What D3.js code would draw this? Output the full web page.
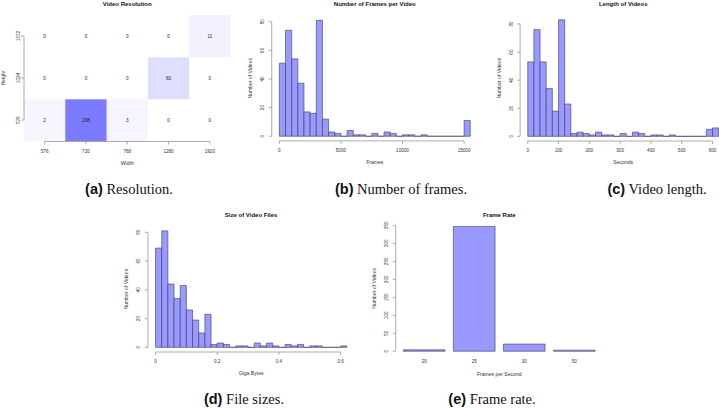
<!DOCTYPE html>
<html><head><meta charset="utf-8">
<script src="https://cdn.jsdelivr.net/npm/d3@7"></script>
<style>
body{margin:0;background:#fff}
svg{display:block}
text{font-family:"Liberation Sans",Arial,Helvetica,sans-serif}
tspan.serif{font-family:"Liberation Serif","Times New Roman",serif}
tspan.tag{font-family:"Liberation Sans",Arial,sans-serif;font-weight:bold}
</style>
</head><body>
<script>
// ---------- data ----------
const resWidths = ["576","720","768","1280","1920"];
const resHeights = ["576","1024","1072"];            // bottom to top
const resCounts = [                                   // rows = heights, cols = widths
  [2,298,3,0,0],
  [0,0,0,60,0],
  [0,0,0,0,11]
];

const frameBin = 500;
const frameCounts = [51,74,54,37,17,16,81,12,3,2,0,4,1,1,0,2,0,3,2,0,1,1,0,1,0,0,0,0,0,0,11];
const frameTicks = [0,5000,10000,15000];

const lengthBin = 20;
const lengthCounts = [53,76,53,34,18,83,23,2,3,2,1,3,1,1,0,2,0,3,2,0,1,1,0,1,0,0,0,0,0,5,6];
const lengthTicks = [0,100,200,300,400,500,600];

const sizeBin = 0.02;
const sizeCounts = [69,81,44,34,43,26,19,10,23,2,3,2,0,1,1,0,3,1,3,1,0,2,1,2,0,1,1,0,0,0,1];
const sizeTicks = [0,0.2,0.4,0.6];

const countTicks = [0,20,40,60,80];

const rateCats = ["20","25","30","50"];
const rateCounts = [4,347,20,3];
const rateTicks = [0,50,100,150,200,250,300,350];

const captions = [
  {tag:"(a)", text:" Resolution."},
  {tag:"(b)", text:" Number of frames."},
  {tag:"(c)", text:" Video length."},
  {tag:"(d)", text:" File sizes."},
  {tag:"(e)", text:" Frame rate."}
];

// ---------- style ----------
const BAR_FILL = "#9999ff";
const BAR_STROKE = "#3a3a5a";
const AXIS_COL = "#8a8a8a";
const TXT_COL = "#333";
const TICK_FS = 4.6, LAB_FS = 5.1, TITLE_FS = 6;

const svg = d3.select("body").append("svg").attr("width",719).attr("height",408);

function title(x,y,t){
  svg.append("text").attr("x",x).attr("y",y).attr("text-anchor","middle")
    .attr("font-size",TITLE_FS).attr("font-weight","bold").attr("fill","#111").text(t);
}
function axisBottom(scale, ticks, y, fmt){
  const g = svg.append("g");
  const xs = ticks.map(scale);
  g.append("line").attr("x1",d3.min(xs)).attr("x2",d3.max(xs)).attr("y1",y).attr("y2",y)
    .attr("stroke",AXIS_COL).attr("stroke-width",0.7);
  ticks.forEach(t=>{
    const x = scale(t);
    g.append("line").attr("x1",x).attr("x2",x).attr("y1",y).attr("y2",y+3)
      .attr("stroke",AXIS_COL).attr("stroke-width",0.7);
    g.append("text").attr("x",x).attr("y",y+11).attr("text-anchor","middle")
      .attr("font-size",TICK_FS).attr("fill",TXT_COL).text(fmt?fmt(t):t);
  });
}
function axisLeft(scale, ticks, x, fmt){
  const g = svg.append("g");
  const ys = ticks.map(scale);
  g.append("line").attr("y1",d3.min(ys)).attr("y2",d3.max(ys)).attr("x1",x).attr("x2",x)
    .attr("stroke",AXIS_COL).attr("stroke-width",0.7);
  ticks.forEach(t=>{
    const y = scale(t);
    g.append("line").attr("y1",y).attr("y2",y).attr("x1",x).attr("x2",x-3)
      .attr("stroke",AXIS_COL).attr("stroke-width",0.7);
    g.append("text").attr("transform",`translate(${x-7.6},${y}) rotate(-90)`)
      .attr("text-anchor","middle").attr("font-size",TICK_FS).attr("fill",TXT_COL)
      .text(fmt?fmt(t):t);
  });
}
function xLabel(x,y,t){
  svg.append("text").attr("x",x).attr("y",y).attr("text-anchor","middle")
    .attr("font-size",LAB_FS).attr("fill",TXT_COL).text(t);
}
function yLabel(x,y,t){
  svg.append("text").attr("transform",`translate(${x},${y}) rotate(-90)`)
    .attr("text-anchor","middle").attr("font-size",LAB_FS).attr("fill",TXT_COL).text(t);
}

// R-style 4% axis extension
function ext(lo,hi){const d=(hi-lo)*0.04;return [lo-d,hi+d];}

function histogram(cfg){
  const {counts, bin, left, right, top, bottom, xTicks, yTicks, xFmt, ttl, xl} = cfg;
  const xMax = counts.length*bin;
  const yMax = d3.max(counts);
  const x = d3.scaleLinear().domain(ext(0,xMax)).range([left,right]);
  const y = d3.scaleLinear().domain(ext(0,yMax)).range([bottom,top]);
  const bars = counts.map((c,i)=>({x0:i*bin, x1:(i+1)*bin, c}));
  svg.append("g").selectAll("path").data(bars).join("path")
    .attr("d",d=>`M${x(d.x0)},${y(0)}V${y(d.c)}H${x(d.x1)}V${y(0)}Z`)
    .attr("fill",BAR_FILL).attr("stroke",BAR_STROKE).attr("stroke-width",0.6);
  axisBottom(x, xTicks, bottom, xFmt);
  axisLeft(y, yTicks, left);
  const cx = (left+right)/2, cy=(top+bottom)/2;
  title(cx, top-9.5, ttl);
  xLabel(cx, bottom+23, xl);
  yLabel(left-19.5, cy, "Number of Videos");
}

// ---------- (a) heatmap ----------
(function(){
  const left=24, right=230.5, top=15, bottom=141;
  const x = d3.scaleBand().domain(resWidths).range([left,right]);
  const y = d3.scaleBand().domain(resHeights).range([bottom,top]);
  const col = d3.scaleLinear().domain([0,1,298]).range(["#ffffff","#f6f6ff","#7b7bff"]);
  const cells = [];
  resHeights.forEach((h,r)=>resWidths.forEach((w,c)=>cells.push({w,h,v:resCounts[r][c]})));
  const g = svg.append("g");
  g.selectAll("rect").data(cells).join("rect")
    .attr("x",d=>x(d.w)).attr("y",d=>y(d.h)).attr("width",x.bandwidth()+0.3).attr("height",y.bandwidth()+0.3)
    .attr("fill",d=>col(d.v));
  g.selectAll("text").data(cells).join("text")
    .attr("x",d=>x(d.w)+x.bandwidth()/2).attr("y",d=>y(d.h)+y.bandwidth()/2+1.6)
    .attr("text-anchor","middle").attr("font-size",TICK_FS).attr("fill","#222")
    .text(d=>d.v);
  const xc = d=>x(d)+x.bandwidth()/2, yc = d=>y(d)+y.bandwidth()/2;
  const ax = svg.append("g");
  ax.append("line").attr("x1",xc(resWidths[0])).attr("x2",xc(resWidths[4])).attr("y1",bottom+0.5).attr("y2",bottom+0.5)
    .attr("stroke",AXIS_COL).attr("stroke-width",0.7);
  resWidths.forEach(w=>{
    ax.append("line").attr("x1",xc(w)).attr("x2",xc(w)).attr("y1",bottom+0.5).attr("y2",bottom+3.5)
      .attr("stroke",AXIS_COL).attr("stroke-width",0.7);
    ax.append("text").attr("x",xc(w)).attr("y",bottom+11.5).attr("text-anchor","middle")
      .attr("font-size",TICK_FS).attr("fill",TXT_COL).text(w);
  });
  ax.append("line").attr("x1",left).attr("x2",left).attr("y1",yc(resHeights[0])).attr("y2",yc(resHeights[2]))
    .attr("stroke",AXIS_COL).attr("stroke-width",0.7);
  resHeights.forEach(h=>{
    ax.append("line").attr("x1",left).attr("x2",left-3).attr("y1",yc(h)).attr("y2",yc(h))
      .attr("stroke",AXIS_COL).attr("stroke-width",0.7);
    ax.append("text").attr("transform",`translate(${left-4.2},${yc(h)}) rotate(-90)`)
      .attr("text-anchor","middle").attr("font-size",TICK_FS).attr("fill",TXT_COL).text(h);
  });
  title((left+right)/2, 6, "Video Resolution");
  xLabel((left+right)/2, 164.5, "Width");
  yLabel(4.6, (top+bottom)/2, "Height");
})();

// ---------- (b) frames ----------
histogram({counts:frameCounts, bin:frameBin, left:271.7, right:477.9, top:15.6, bottom:140.9,
  xTicks:frameTicks, yTicks:countTicks, ttl:"Number of Frames per Video", xl:"Frames"});

// ---------- (c) length ----------
histogram({counts:lengthCounts, bin:lengthBin, left:520.1, right:726.3, top:15.1, bottom:141.0,
  xTicks:lengthTicks, yTicks:countTicks, ttl:"Length of Videos", xl:"Seconds"});

// ---------- (d) sizes ----------
histogram({counts:sizeCounts, bin:sizeBin, left:147.9, right:354.4, top:226.2, bottom:352.0,
  xTicks:sizeTicks, yTicks:countTicks, xFmt:d3.format(".1~f"), ttl:"Size of Video Files", xl:"Giga Bytes"});

// ---------- (e) frame rate ----------
(function(){
  const left=395.7, right=602.8, top=220.3, bottom=356.3;
  const x = d3.scaleBand().domain(rateCats).range([left,right]).paddingInner(0.2/1.2).paddingOuter(0.1533);
  const y = d3.scaleLinear().domain([-14,364]).range([bottom,top]);
  svg.append("g").selectAll("path").data(rateCats.map((c,i)=>({c,v:rateCounts[i]}))).join("path")
    .attr("d",d=>`M${x(d.c)},${y(0)}V${y(d.v)}H${x(d.c)+x.bandwidth()}V${y(0)}Z`)
    .attr("fill",BAR_FILL).attr("stroke",BAR_STROKE).attr("stroke-width",0.6);
  rateCats.forEach(c=>{
    svg.append("text").attr("x",x(c)+x.bandwidth()/2).attr("y",bottom+6.3).attr("text-anchor","middle")
      .attr("font-size",TICK_FS).attr("fill",TXT_COL).text(c);
  });
  axisLeft(y, rateTicks, left);
  const cx=(left+right)/2, cy=(top+bottom)/2;
  title(cx, top-3.8, "Frame Rate");
  xLabel(cx, bottom+19.5, "Frames per Second");
  yLabel(left-19.5, cy, "Number of Videos");
})();

// ---------- captions ----------
const capPos = [[129,194],[401,194],[657,194],[244,404],[492,404]];
captions.forEach((c,i)=>{
  const t = svg.append("text").attr("x",capPos[i][0]).attr("y",capPos[i][1]).attr("text-anchor","middle")
    .attr("font-size",14.5).attr("fill","#111");
  t.append("tspan").attr("class","tag").text(c.tag);
  t.append("tspan").attr("class","serif").text(c.text);
});
</script>
</body></html>
